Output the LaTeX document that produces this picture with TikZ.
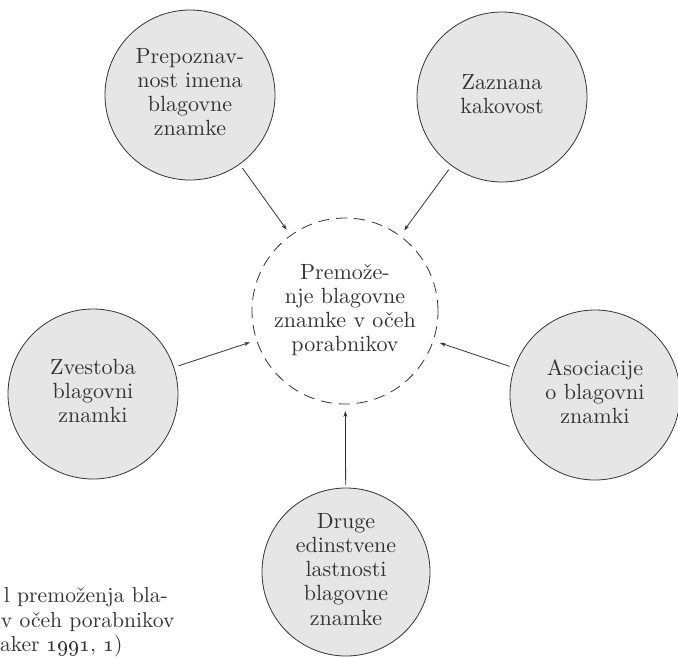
\documentclass[tikz,border=0pt]{standalone}
\usetikzlibrary{arrows.meta}
\usepackage{graphicx}
\definecolor{txt}{HTML}{333333}
\definecolor{fillg}{HTML}{E6E6E6}
\newcommand{\circtext}[1]{\scalebox{2.2}{\fontsize{10}{10.95}\selectfont\begin{tabular}{@{}c@{}}#1\end{tabular}}}
\newcommand{\captline}[1]{\scalebox{2.16}{\fontsize{10}{12}\selectfont #1}}
\begin{document}
\begin{tikzpicture}[x=1pt,y=-1pt,
  every node/.style={text=txt, align=center, inner sep=0pt, outer sep=0pt},
  bubble/.style={circle, draw=txt, line width=0.8pt, fill=fillg, minimum size=170pt},
  centre/.style={circle, draw=txt, line width=0.8pt, dash pattern=on 11pt off 7pt, minimum size=186pt},
  arr/.style={draw=txt, line width=0.8pt, -{Stealth[length=6pt,width=4pt]}, shorten <=5pt, shorten >=7pt},
  captext/.style={anchor=base west, align=left}]
\useasboundingbox (0,0) rectangle (678,657);
\node[centre] (c) at (345,311) {\circtext{Premože-\\nje blagovne\\znamke v očeh\\porabnikov}};
\node[bubble] (tl) at (190,95) {\circtext{Prepoznav-\\nost imena\\blagovne\\znamke}};
\node[bubble] (tr) at (502,97) {\circtext{Zaznana\\kakovost}};
\node[bubble] (l) at (93,394) {\circtext{Zvestoba\\blagovni\\znamki}};
\node[bubble] (r) at (595,395) {\circtext{Asociacije\\o blagovni\\znamki}};
\node[bubble, minimum size=168pt] (b) at (346,572) {\circtext{Druge\\edinstvene\\lastnosti\\blagovne\\znamke}};
\draw[arr] (tl) -- (c);
\draw[arr] (tr) -- (c);
\draw[arr] (l) -- (c);
\draw[arr] (r) -- (c);
\draw[arr, shorten <=3pt] (b) -- (c);
\node[captext] (cap1) at (4,602) {\captline{l premoženja bla-}};
\node[captext] (cap2) at (1,627) {\captline{v očeh porabnikov}};
\node[captext] (cap3) at (0,651) {\captline{aker \oldstylenums{1991}, \oldstylenums{1})}};
\end{tikzpicture}
\end{document}
